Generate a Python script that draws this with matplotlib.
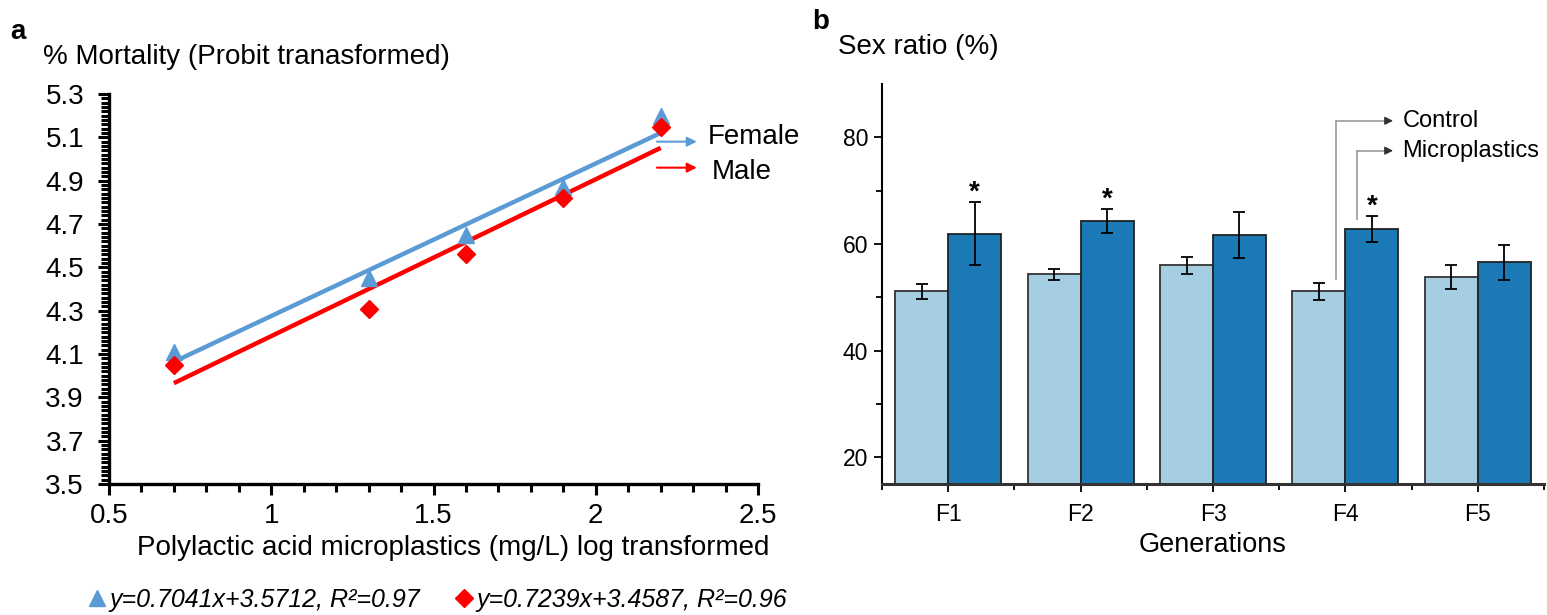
import numpy as np
import matplotlib.pyplot as plt
from matplotlib.lines import Line2D
from matplotlib.ticker import MultipleLocator

plt.rcParams['font.family'] = ['Liberation Sans', 'DejaVu Sans']

# panel a: probit mortality vs log concentration
conc = [0.7, 1.3, 1.6, 1.9, 2.2]
female = [4.11, 4.45, 4.65, 4.87, 5.20]
male = [4.05, 4.31, 4.56, 4.82, 5.15]
female_fit = (0.7041, 3.5712, 0.97)
male_fit = (0.7239, 3.4587, 0.96)

# panel b: sex ratio per generation
generations = ['F1', 'F2', 'F3', 'F4', 'F5']
control = [51.1, 54.3, 56.0, 51.1, 53.8]
control_err = [1.45, 1.0, 1.6, 1.55, 2.3]
micro = [61.9, 64.3, 61.7, 62.8, 56.6]
micro_err = [5.9, 2.3, 4.3, 2.5, 3.3]
signif = [True, True, False, True, False]

blue = '#5b9bd5'
red = '#ff0000'
light = '#a6cee3'
dark = '#1b79b5'

fig = plt.figure(figsize=(15.47, 6.15), dpi=100)
W, H = 1547, 615

# ---------- panel a ----------
ax = fig.add_axes([109 / W, 1 - 484 / H, (758 - 109) / W, (484 - 94) / H])
xs = np.array([conc[0], conc[-1]])
ax.plot(xs, female_fit[0] * xs + female_fit[1], color=blue, lw=3.2, solid_capstyle='butt', zorder=2)
ax.plot(xs, male_fit[0] * xs + male_fit[1], color=red, lw=3.2, solid_capstyle='butt', zorder=2)
ax.plot(conc, female, '^', color=blue, ms=11, zorder=3)
ax.plot(conc, male, 'D', color=red, ms=9, zorder=3)

ax.set_xlim(0.5, 2.5)
ax.set_ylim(3.5, 5.3)
ax.set_xticks([0.5, 1, 1.5, 2, 2.5])
ax.set_xticklabels(['0.5', '1', '1.5', '2', '2.5'])
ax.xaxis.set_minor_locator(MultipleLocator(0.1))
ax.set_yticks(np.arange(3.5, 5.31, 0.2))
ax.set_yticklabels(['%.1f' % v for v in np.arange(3.5, 5.31, 0.2)])
ax.yaxis.set_minor_locator(MultipleLocator(0.02))
for s in ['top', 'right']:
    ax.spines[s].set_visible(False)
for s in ['left', 'bottom']:
    ax.spines[s].set_linewidth(2.4)
ax.tick_params(axis='both', which='major', direction='out', length=8, width=2.2, labelsize=20)
ax.tick_params(axis='both', which='minor', direction='out', length=6, width=2.2)
ax.tick_params(axis='y', which='major', pad=10)
ax.tick_params(axis='x', which='major', pad=6)

# Female / Male arrows
ax.annotate('', xy=(2.32, 5.08), xytext=(2.18, 5.08),
            arrowprops=dict(arrowstyle='-|>', color=blue, lw=1.5, mutation_scale=14),
            annotation_clip=False)
ax.annotate('', xy=(2.32, 4.96), xytext=(2.18, 4.96),
            arrowprops=dict(arrowstyle='-|>', color=red, lw=1.5, mutation_scale=14),
            annotation_clip=False)
ax.text(2.345, 5.10, 'Female', fontsize=20, va='center', ha='left')
ax.text(2.358, 4.94, 'Male', fontsize=20, va='center', ha='left')

fig.text(10 / W, 1 - 32 / H, 'a', fontsize=20, fontweight='bold', va='center')
fig.text(43 / W, 1 - 57 / H, '% Mortality (Probit tranasformed)', fontsize=20, va='center')
fig.text(453 / W, 1 - 548 / H, 'Polylactic acid microplastics (mg/L) log transformed',
         fontsize=20, va='center', ha='center')

handles = [Line2D([], [], marker='^', ls='none', color=blue, ms=11),
           Line2D([], [], marker='D', ls='none', color=red, ms=9)]
labels = ['y=%.4fx+%.4f, R²=%.2f' % f for f in (female_fit, male_fit)]
fig.legend(handles, labels, loc='center left', bbox_to_anchor=(88 / W, 1 - 600 / H),
           ncol=2, frameon=False, handlelength=0.7, handletextpad=0.15, columnspacing=1.4,
           prop={'style': 'italic', 'size': 18}, borderaxespad=0, borderpad=0)

# ---------- panel b ----------
bx = fig.add_axes([882 / W, 1 - 484 / H, (1544 - 882) / W, (484 - 84) / H])
x = np.arange(len(generations))
bw = 0.4
ekw = dict(ecolor='black', elinewidth=1.3, capsize=4, capthick=1.3)
bx.bar(x - bw / 2, control, bw, color=light, edgecolor='#333333', lw=1.3,
       yerr=control_err, error_kw=ekw, zorder=2)
bx.bar(x + bw / 2, micro, bw, color=dark, edgecolor='#222222', lw=1.3,
       yerr=micro_err, error_kw=ekw, zorder=2)
for i, s in enumerate(signif):
    if s:
        bx.text(x[i] + bw / 2, micro[i] + micro_err[i] + 1.8, '*', fontsize=20,
                ha='center', va='center', fontweight='bold')

bx.set_xlim(-0.5, len(generations) - 0.5)
bx.set_ylim(15, 90)
bx.set_xticks(x)
bx.set_xticklabels(generations)
bx.set_xticks(np.arange(-0.5, len(generations)), minor=True)
bx.set_yticks([20, 40, 60, 80])
bx.set_yticks([30, 50, 70], minor=True)
for s in ['top', 'right']:
    bx.spines[s].set_visible(False)
bx.spines['left'].set_linewidth(1.5)
bx.spines['bottom'].set_linewidth(2.2)
bx.spines['bottom'].set_color('#333333')
bx.tick_params(axis='both', which='major', direction='out', length=6, width=1.3, labelsize=16.5)
bx.tick_params(axis='both', which='minor', direction='out', length=4, width=1.3)
bx.tick_params(axis='y', which='major', pad=4)
bx.tick_params(axis='x', which='major', pad=8)

# legend-style callouts on F4
i4 = 3
cx, mx = x[i4] - 0.07, x[i4] + 0.09
tip = x[i4] + 0.36
for vx, y0, y1, lab in [(cx, control[i4] + control_err[i4] + 0.8, 83.1, 'Control'),
                        (mx, micro[i4] + micro_err[i4] - 0.7, 77.5, 'Microplastics')]:
    bx.plot([vx, vx], [y0, y1], color='#999999', lw=1.2, zorder=3)
    bx.plot([vx, tip - 0.03], [y1, y1], color='#999999', lw=1.2, zorder=3)
    bx.annotate('', xy=(tip, y1), xytext=(tip - 0.04, y1),
                arrowprops=dict(arrowstyle='-|>', color='#333333', lw=1.0,
                                mutation_scale=12, shrinkA=0, shrinkB=0))
    bx.text(x[i4] + 0.43, y1, lab, fontsize=17, va='center', ha='left')

fig.text(812 / W, 1 - 22 / H, 'b', fontsize=20, fontweight='bold', va='center')
fig.text(838 / W, 1 - 47 / H, 'Sex ratio (%)', fontsize=20, va='center')
fig.text((882 + 1544) / 2 / W, 1 - 545 / H, 'Generations', fontsize=19.5, va='center', ha='center')

fig.savefig('out.png', dpi=100)
